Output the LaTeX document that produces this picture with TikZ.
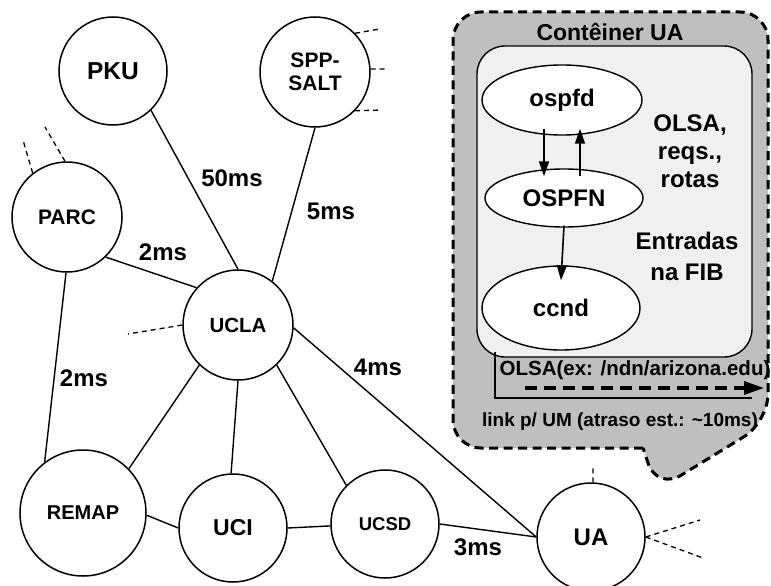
\documentclass[tikz,border=0pt]{standalone}
\usepackage{fontspec}
\setmainfont{Liberation Sans}
\usetikzlibrary{arrows.meta,shapes.geometric}
\newcommand\fsz[2]{\fontsize{#1}{#2}\selectfont}
\begin{document}
\begin{tikzpicture}[x=1pt,y=-1pt,
  site/.style={circle,draw,line width=1.5pt,fill=white,inner sep=0pt,minimum size=108pt,font=\bfseries},
  proc/.style={ellipse,draw,line width=1.4pt,fill=white,inner sep=0pt,font=\bfseries\fsz{24}{28}},
  link/.style={line width=1.4pt},
  stub/.style={line width=1.3pt,dash pattern=on 5pt off 4pt},
  lbl/.style={font=\bfseries\fsz{24}{28},inner sep=0pt},
  arr/.style={line width=1.6pt,-{Triangle[length=15pt,width=10pt]}},
  callout/.style={draw,line width=3pt,dash pattern=on 9pt off 5.5pt,fill=gray!50},
]
\useasboundingbox (0,0) rectangle (771,586);

% callout container
\draw[callout] (643,448) [rounded corners=28] -- (453,448) -- (453,12) -- (768,12) -- (768,422) -- (657,490) [sharp corners] -- cycle;
\draw[line width=1.4pt,fill=black!6,rounded corners=28] (477,46) rectangle (752,357);
\node[font=\bfseries\fsz{23}{27},inner sep=0pt] (title) at (610,32) {Contêiner UA};

\node[proc,minimum width=160pt,minimum height=70pt] (ospfd) at (562,100) {ospfd};
\node[proc,minimum width=158pt,minimum height=58pt] (ospfn) at (564,198) {OSPFN};
\node[proc,minimum width=158pt,minimum height=84pt] (ccnd) at (561,308) {ccnd};

\draw[arr] ([xshift=-18pt,yshift=7pt]ospfd.south) -- ([xshift=-20pt,yshift=-8pt]ospfn.north);
\draw[arr] ([xshift=16pt,yshift=-8pt]ospfn.north) -- ([xshift=18pt,yshift=7pt]ospfd.south);
\draw[arr] ([yshift=2pt]ospfn.south) -- ([yshift=-15pt]ccnd.north);

\node[lbl,align=center,font=\bfseries\fsz{24}{28}] (olsa) at (690,151) {OLSA,\\reqs.,\\rotas};
\node[lbl,align=center,font=\bfseries\fsz{24}{31}] (fib) at (687,256) {Entradas\\na FIB};

\coordinate (lA) at (495,352);
\coordinate (lB) at (495,398);
\coordinate (lC) at (752,398);
\draw[line width=2.4pt] (lA) -- (lB) -- (lC);
\node[font=\bfseries\fsz{20.5}{24},inner sep=0pt] (olsaex) at (635,370) {OLSA(ex: /ndn/arizona.edu)};
\coordinate (dA) at (525,388);
\coordinate (dB) at (764,388);
\draw[line width=3.2pt,dash pattern=on 12pt off 7pt,-{Triangle[length=20pt,width=13pt]}] (dA) -- (dB);
\node[font=\bfseries\fsz{19}{23},inner sep=0pt] (um) at (620,422) {link p/ UM (atraso est.: \textasciitilde 10ms)};

% sites
\node[site,font=\bfseries\fsz{24.5}{28}] (pku) at (113,71) {PKU};
\node[site,minimum size=110pt,align=center,font=\bfseries\fsz{21}{23}] (spp) at (315,72) {SPP-\\SALT};
\node[site,minimum size=110pt,font=\bfseries\fsz{21}{25}] (parc) at (67,217) {PARC};
\node[site,minimum size=110pt,font=\bfseries\fsz{20.5}{24}] (ucla) at (238,325) {UCLA};
\node[site,minimum size=126pt,font=\bfseries\fsz{20}{24}] (remap) at (83,513) {REMAP};
\node[site,font=\bfseries\fsz{23}{27}] (uci) at (233,528) {UCI};
\node[site,font=\bfseries\fsz{18.5}{22}] (ucsd) at (385,524) {UCSD};
\node[site,font=\bfseries\fsz{24}{28}] (ua) at (591,537) {UA};

% links
\draw[link] (pku.-46) -- (ucla.90);
\draw[link] (spp.-90) -- (ucla.52);
\draw[link] (parc.-46) -- (ucla.138);
\draw[link] (parc.-91) -- (remap.127);
\draw[link] (ucla.-134) -- (remap.44);
\draw[link] (ucla.-90) -- (uci.92);
\draw[link] (ucla.-46) -- (ucsd.135);
\draw[link] (ucla.-3) -- (ua.180);
\draw[link] (remap.-2) -- (uci.180);
\draw[link] (uci.0) -- (ucsd.182);
\draw[link] (ucsd.0) -- (ua.180);

% labels
\node[lbl] (l50) at (232,178) {50ms};
\node[lbl] (l5) at (331,211) {5ms};
\node[lbl] (l2a) at (163,252) {2ms};
\node[lbl] (l2b) at (84,378) {2ms};
\node[lbl] (l4) at (378,367) {4ms};
\node[lbl] (l3) at (478,547) {3ms};

% stubs
\coordinate (s1) at (23,140);
\coordinate (s2) at (45,127);
\coordinate (s3) at (380,29);
\coordinate (s4) at (388,69);
\coordinate (s5) at (382,110);
\coordinate (s6) at (128,334);
\coordinate (s7) at (593,465);
\coordinate (s8) at (700,520);
\coordinate (s9) at (703,558);
\draw[stub] (parc.128) -- (s1);
\draw[stub] (parc.92) -- (s2);
\draw[stub] (spp.44) -- (s3);
\draw[stub] (spp.3) -- (s4);
\draw[stub] (spp.-44) -- (s5);
\draw[stub] (ucla.180) -- (s6);
\draw[stub] (ua.88) -- (s7);
\draw[stub] (ua.0) -- (s8);
\draw[stub] (ua.0) -- (s9);
\end{tikzpicture}
\end{document}
